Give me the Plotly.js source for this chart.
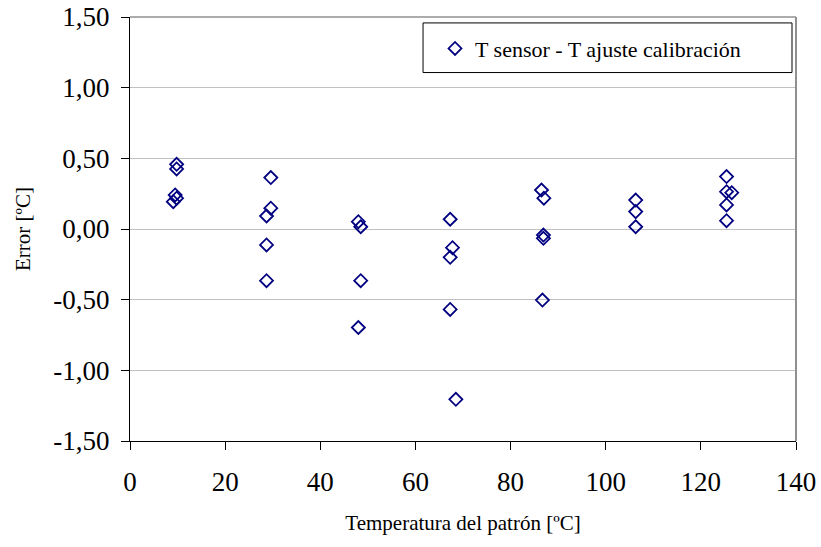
<!DOCTYPE html>
<html>
<head>
<meta charset="utf-8">
<script src="https://cdn.plot.ly/plotly-3.0.1.min.js"></script>
<style>html,body{margin:0;padding:0;background:#fff;}#chart{width:821px;height:547px;}</style>
</head>
<body>
<div id="chart"></div>
<script>
// Temperatura del patrón [ºC]
const tempPatron = [
  9.8, 9.8, 9.5, 9.8, 9.1,
  29.6, 29.6, 28.7, 28.7, 28.7,
  48.0, 48.5, 48.5, 48.0,
  67.3, 67.8, 67.3, 67.3, 68.5,
  86.5, 87.0, 86.9, 86.9, 86.7,
  106.3, 106.3, 106.3,
  125.4, 125.4, 126.5, 125.4, 125.4
];
// Error [ºC] = T sensor - T ajuste calibración
const errorVals = [
  0.458, 0.425, 0.241, 0.218, 0.193,
  0.364, 0.147, 0.092, -0.113, -0.366,
  0.052, 0.016, -0.366, -0.697,
  0.069, -0.132, -0.200, -0.569, -1.205,
  0.276, 0.218, -0.043, -0.066, -0.503,
  0.205, 0.123, 0.016,
  0.371, 0.264, 0.257, 0.170, 0.059
];
const yTickVals = [-1.5, -1.0, -0.5, 0, 0.5, 1.0, 1.5];
const yTickText = ["-1,50", "-1,00", "-0,50", "0,00", "0,50", "1,00", "1,50"];
const xTickVals = [0, 20, 40, 60, 80, 100, 120, 140];
const seriesName = "T sensor - T ajuste calibración";

const font = "Liberation Serif, Times New Roman, serif";

const trace = {
  x: tempPatron, y: errorVals, type: 'scatter', mode: 'markers', name: seriesName,
  marker: {symbol: 'diamond-open', size: 10, color: '#000080', line: {color: '#000080', width: 1.8}}
};

const layout = {
  width: 821, height: 547,
  margin: {l: 130, r: 25, t: 17, b: 106},
  paper_bgcolor: '#fff', plot_bgcolor: '#fff',
  font: {family: font, color: '#000'},
  showlegend: true,
  legend: {x: 0.458, y: 0.975, xanchor: 'left', yanchor: 'top', bgcolor: 'rgba(0,0,0,0)', borderwidth: 0,
           font: {family: font, size: 22, color: '#000'}},
  xaxis: {
    range: [0, 140], tickvals: xTickVals, ticks: 'outside', ticklen: 8, tickcolor: '#000', tickwidth: 1,
    showline: true, linecolor: '#000', linewidth: 1, showgrid: false, zeroline: false,
    tickfont: {family: font, size: 27, color: '#000'}, ticklabelstandoff: 9,
    title: {text: 'Temperatura del patrón [ºC]', font: {family: font, size: 21, color: '#000'}, standoff: 18}
  },
  yaxis: {
    range: [-1.5, 1.5], tickvals: yTickVals, ticktext: yTickText, ticks: 'outside', ticklen: 8, tickcolor: '#000', tickwidth: 1,
    showline: true, linecolor: '#000', linewidth: 1, showgrid: true, gridcolor: '#c0c0c0', gridwidth: 1, zeroline: false,
    tickfont: {family: font, size: 27, color: '#000'}, ticklabelstandoff: 6,
    title: {text: 'Error [ºC]', font: {family: font, size: 21, color: '#000'}, standoff: 16}
  },
  shapes: [
    {type: 'line', xref: 'paper', yref: 'paper', x0: 0, x1: 1, y0: 1, y1: 1, line: {color: '#909090', width: 1.5}},
    {type: 'line', xref: 'paper', yref: 'paper', x0: 1, x1: 1, y0: 0, y1: 1, line: {color: '#909090', width: 2}},
    {type: 'rect', xref: 'paper', yref: 'paper', x0: 0.44, x1: 0.994, y0: 0.869, y1: 0.986,
     line: {color: '#000', width: 1}, fillcolor: '#fff', layer: 'above'}
  ]
};

Plotly.newPlot('chart', [trace], layout, {staticPlot: true, displayModeBar: false});
</script>
</body>
</html>
